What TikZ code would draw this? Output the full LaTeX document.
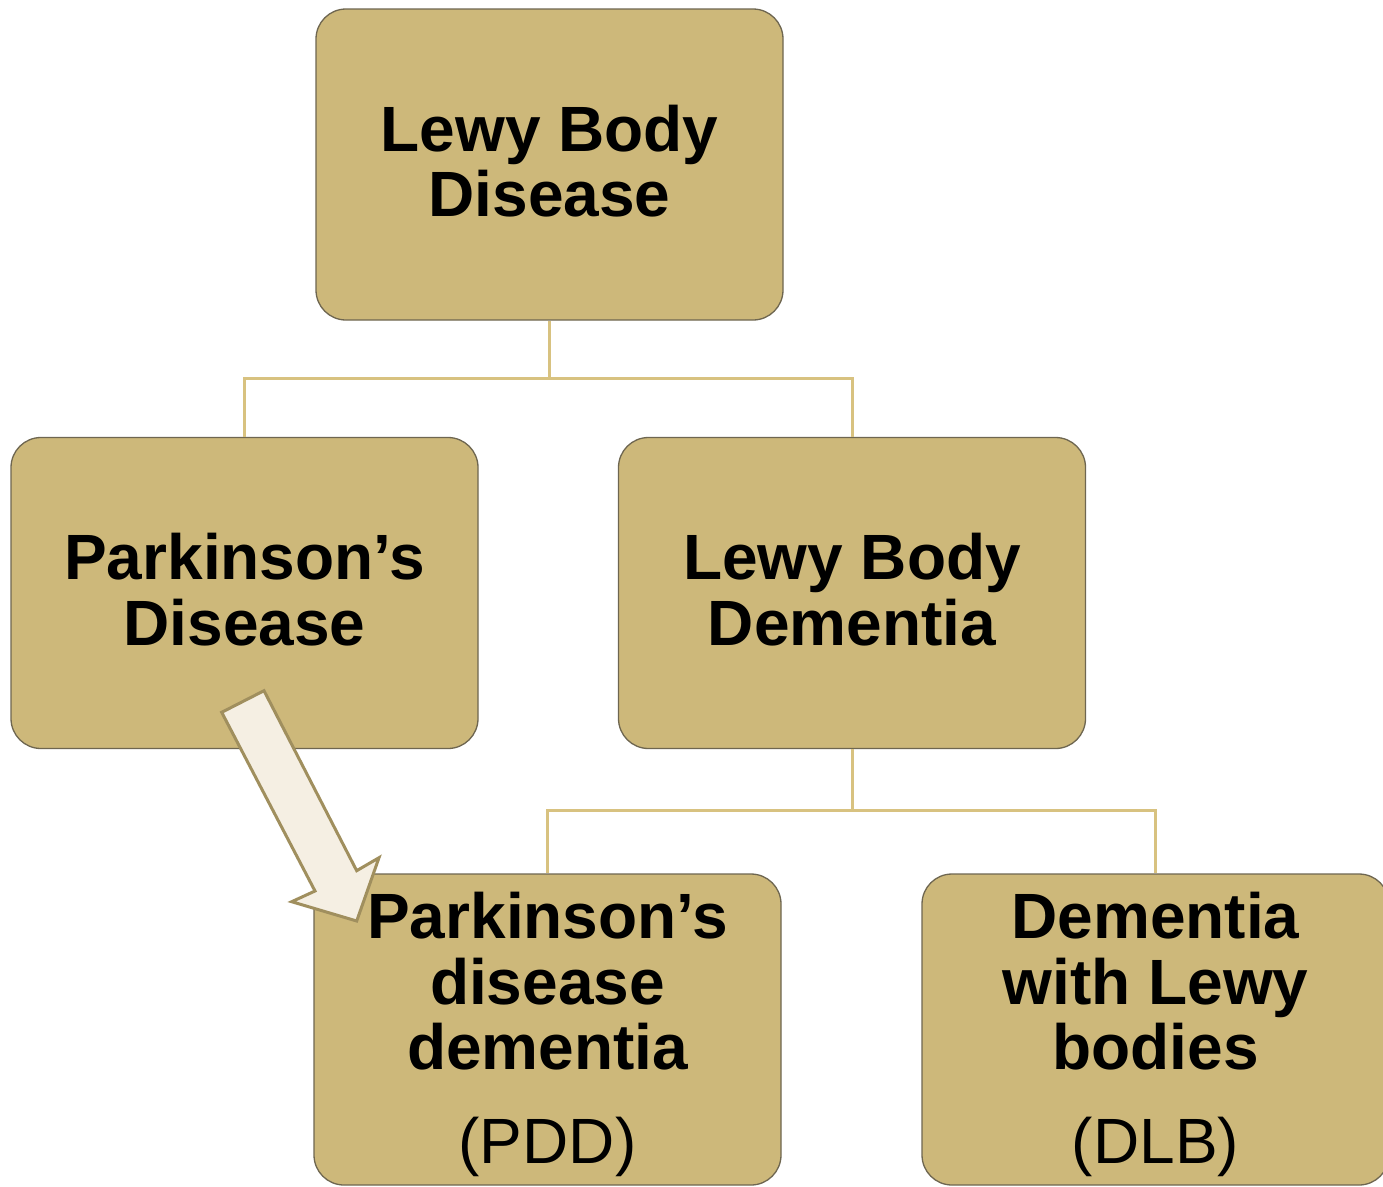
\documentclass[tikz,border=0pt]{standalone}
\usepackage{fontspec}
\setmainfont{Liberation Sans}
\definecolor{boxfill}{RGB}{205,184,122}
\definecolor{boxline}{RGB}{110,102,80}
\definecolor{conn}{RGB}{216,194,128}
\definecolor{arrfill}{RGB}{245,239,227}
\definecolor{arrline}{RGB}{160,143,94}
\newcommand{\dstrut}{\rule[-7pt]{0pt}{7pt}}
\newcommand{\hstrut}{\rule{0pt}{56pt}}
\tikzset{
  gbox/.style={draw=boxline, line width=1.3pt, fill=boxfill, rounded corners=30pt,
    minimum width=467pt, minimum height=311pt, align=center, inner sep=0pt,
    font=\fontsize{64}{65.5}\selectfont\bfseries},
  conline/.style={draw=conn, line width=3pt},
}
\begin{document}
\begin{tikzpicture}[x=1pt,y=-1pt]
\clip (0,0) rectangle (1383,1186);
\fill[white] (0,0) rectangle (1383,1186);
\coordinate (j1) at (549.5,378);
\coordinate (j2) at (852,810);
\node[gbox] (top) at (549.5,164.5) {Lewy Body\\Disease\dstrut};
\node[gbox] (pd) at (244.5,593) {Parkinson’s\\Disease\dstrut};
\node[gbox] (lbd) at (852,593) {Lewy Body\\Dementia\dstrut};
\node[gbox] (pdd) at (547.5,1029.5) {\hstrut Parkinson’s\\disease\\dementia\\[28pt]{\mdseries (PDD)}};
\node[gbox] (dlb) at (1155.5,1029.5) {\hstrut Dementia\\with Lewy\\bodies\\[28pt]{\mdseries (DLB)}};
\draw[conline] (top.south) -- (j1) -| (pd.north);
\draw[conline] (j1) -| (lbd.north);
\draw[conline] (lbd.south) -- (j2) -| (pdd.north);
\draw[conline] (j2) -| (dlb.north);
% block arrow
\draw[draw=arrline, fill=arrfill, line width=3pt, line join=miter]
  (221.7,712.3) -- (264,690.7) -- (356.7,870.7) -- (379,857.7) -- (356.7,921)
  -- (291.7,901.7) -- (315,891) -- cycle;
\end{tikzpicture}
\end{document}
